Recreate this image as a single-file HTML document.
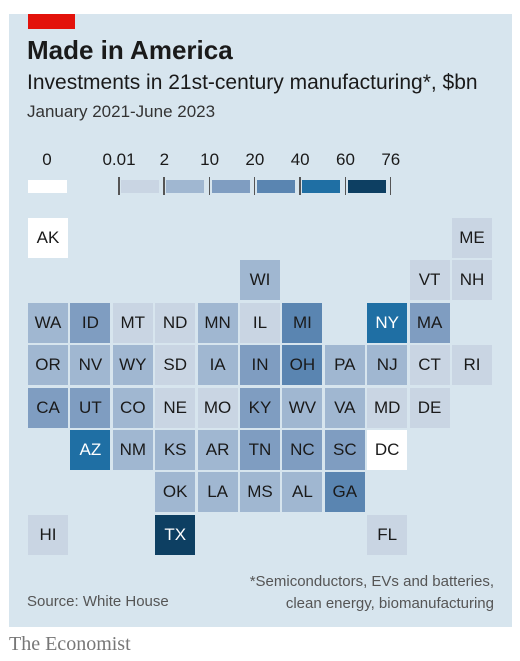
<!DOCTYPE html>
<html><head><meta charset="utf-8">
<style>
body{margin:0;width:520px;height:661px;background:#fff;position:relative;font-family:"Liberation Sans",sans-serif;overflow:hidden}
#panel{position:absolute;left:9px;top:14px;width:503px;height:613px;background:#d7e5ee}
.t{position:absolute;white-space:nowrap;color:#1a1a1a}
.cell{position:absolute;width:40px;height:40px;display:flex;align-items:center;justify-content:center;font-size:17px;color:#1a1a1a}
.box{position:absolute;top:180px;height:13px}
.tick{position:absolute;top:177px;width:1.5px;height:18px;background:#555}
.lab{position:absolute;top:150px;font-size:17px;transform:translateX(-50%);color:#1a1a1a}
</style></head><body>
<div id="panel"></div>
<div style="position:absolute;left:28px;top:14px;width:47px;height:15px;background:#e3120b"></div>
<div class="t" style="left:27px;top:35px;font-size:26px;font-weight:bold">Made in America</div>
<div class="t" style="left:27px;top:71px;font-size:21px">Investments in 21st-century manufacturing*, $bn</div>
<div class="t" style="left:27px;top:102px;font-size:17px;color:#333">January 2021-June 2023</div>
<div id="legend"></div>
<div id="map"></div>
<div class="t" style="left:27px;top:593px;font-size:15px;color:#555">Source: White House</div>
<div class="t" style="right:26px;top:571px;font-size:15px;color:#555;text-align:right;line-height:22px">*Semiconductors, EVs and batteries,<br>clean energy, biomanufacturing</div>
<div class="t" style="left:9px;top:633px;font-size:20px;font-family:'Liberation Serif',serif;color:#777">The Economist</div>
<script>
const legendTicks=["0.01","2","10","20","40","60","76"];
const colors=["#ffffff","#c9d5e3","#a0b7d1","#7f9dc1","#5a85b1","#1f6fa4","#0d3f62"];
const states=["AK","ME","WI","VT","NH","WA","ID","MT","ND","MN","IL","MI","NY","MA","OR","NV","WY","SD","IA","IN","OH","PA","NJ","CT","RI","CA","UT","CO","NE","MO","KY","WV","VA","MD","DE","AZ","NM","KS","AR","TN","NC","SC","DC","OK","LA","MS","AL","GA","HI","TX","FL"];
const cols=[0,10,5,9,10,0,1,2,3,4,5,6,8,9,0,1,2,3,4,5,6,7,8,9,10,0,1,2,3,4,5,6,7,8,9,1,2,3,4,5,6,7,8,3,4,5,6,7,0,3,8];
const rows=[0,0,1,1,1,2,2,2,2,2,2,2,2,2,3,3,3,3,3,3,3,3,3,3,3,4,4,4,4,4,4,4,4,4,4,5,5,5,5,5,5,5,5,6,6,6,6,6,7,7,7];
const levels=[0,1,2,1,1,2,3,1,1,2,1,4,5,3,2,2,2,1,2,3,4,2,2,1,1,3,3,2,1,1,3,2,2,1,1,5,2,2,2,3,3,3,0,2,2,2,2,4,1,6,1];
const x=c=>28+c*42.4, y=r=>218+r*42.4;
const map=document.getElementById('map');
states.forEach((s,i)=>{const d=document.createElement('div');


d.className='cell';d.textContent=s;d.style.left=x(cols[i])+'px';d.style.top=y(rows[i])+'px';
d.style.background=colors[levels[i]];if(levels[i]>=5)d.style.color='#fff';map.appendChild(d);});
const lg=document.getElementById('legend');
const tx=i=>118+i*45.3;
let z=document.createElement('div');z.className='box';


z.style.left='28px';z.style.width='39px';z.style.background=colors[0];lg.appendChild(z);
let zl=document.createElement('div');zl.className='lab';zl.textContent='0';


zl.style.left='47px';lg.appendChild(zl);
legendTicks.forEach((t,i)=>{
 const k=document.createElement('div');k.className='tick';
 
 
 k.style.left=tx(i)+'px';lg.appendChild(k);
 const l=document.createElement('div');l.className='lab';l.textContent=t;
 
 
 l.style.left=(tx(i)+1)+'px';lg.appendChild(l);
 if(i<legendTicks.length-1){const b=document.createElement('div');b.className='box';
 
 
 b.style.left=(tx(i)+3)+'px';b.style.width='38px';b.style.background=colors[i+1];lg.appendChild(b);}
});
</script>
</body></html>
